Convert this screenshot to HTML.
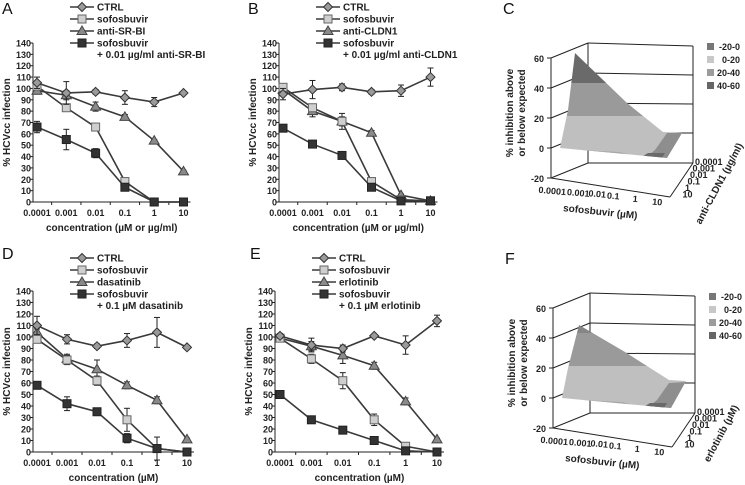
<!DOCTYPE html>
<html><head><meta charset="utf-8"><style>
body{margin:0;background:#fff;}
svg{display:block;font-family:"Liberation Sans",Arial,sans-serif;}
.tk{font-size:9px;font-weight:bold;fill:#222;}
.lg{font-size:10px;font-weight:bold;fill:#222;}
.ttl{font-size:10px;font-weight:bold;fill:#222;}
.let{font-size:16px;fill:#111;}
</style></head><body>
<svg id="fig" width="745" height="485" viewBox="0 0 745 485">
<defs>
<clipPath id="surf-c"><polygon points="560,148 568,110 575,53 627,103 663,132 682,133 667,158 657,157"/></clipPath>
<clipPath id="surf-f"><polygon points="560,148 566,118 577,75 623,102 667,130 684,131 669,158 657,157"/></clipPath>
</defs>
<g id="three-d-c"></g>
<g id="three-d-f" transform="translate(2,250)"></g>
</svg>
<script>
const categories = ["0.0001","0.001","0.01","0.1","1","10"];
const yTicks = [0,10,20,30,40,50,60,70,80,90,100,110,120,130,140];
const seriesNamesA = ["CTRL","sofosbuvir","anti-SR-BI","sofosbuvir"];
const seriesNamesB = ["CTRL","sofosbuvir","anti-CLDN1","sofosbuvir"];
const seriesNamesD = ["CTRL","sofosbuvir","dasatinib","sofosbuvir"];
const seriesNamesE = ["CTRL","sofosbuvir","erlotinib","sofosbuvir"];
const ctrlA=[105,96,97,92,88,96], sofA=[102,83,66,18,0,0], drugA=[98,94,84,75,54,27], comboA=[66,55,43,13,0,0];
const ctrlAErr=[5,10,2,6,4,1], sofAErr=[3,2,2,3,0,0], drugAErr=[3,4,4,2,1,1], comboAErr=[5,9,4,2,0,0];
const ctrlB=[95,99,101,97,98,110], sofB=[101,83,71,18,2,1], drugB=[99,80,71,61,6,1], comboB=[65,51,41,13,1,1];
const ctrlBErr=[5,8,3,2,5,8], sofBErr=[3,3,4,3,0,0], drugBErr=[3,5,7,2,1,0], comboBErr=[3,2,2,2,0,0];
const ctrlD=[110,98,92,97,104,91], sofD=[98,80,62,28,3,0], drugD=[104,81,72,58,45,11], comboD=[58,42,35,12,3,0];
const ctrlDErr=[8,4,2,6,13,1], sofDErr=[3,4,4,10,10,0], drugDErr=[3,4,8,3,3,1], comboDErr=[2,6,2,4,2,0];
const ctrlE=[101,93,90,101,93,114], sofE=[99,81,62,28,5,0], drugE=[99,92,84,75,44,11], comboE=[50,28,19,10,1,0];
const ctrlEErr=[2,6,3,1,8,5], sofEErr=[2,4,7,5,1,0], drugEErr=[2,4,7,3,3,1], comboEErr=[1,1,1,1,0,0];

const NS="http://www.w3.org/2000/svg";
const fig=document.getElementById('fig');
function mk(tag,attrs,parent){const e=document.createElementNS(NS,tag);for(const k in attrs)e.setAttribute(k,attrs[k]);(parent||fig).appendChild(e);return e;}
function txt(s,attrs,parent){const e=mk('text',attrs,parent);e.textContent=s;return e;}

const fills=["#9a9a9a","#cfcfcf","#8a8a8a","#333333"];
function marker(g,kind,x,y){
  let m;
  if(kind===0) m=mk('polygon',{points:`${x},${y-4.5} ${x+4.5},${y} ${x},${y+4.5} ${x-4.5},${y}`,fill:fills[0],stroke:'#333','stroke-width':1},g);
  else if(kind===2) m=mk('polygon',{points:`${x},${y-5} ${x+5},${y+3.5} ${x-5},${y+3.5}`,fill:fills[2],stroke:'#444','stroke-width':1},g);
  else m=mk('rect',{x:x-4,y:y-4,width:8,height:8,fill:fills[kind],stroke:kind===1?'#666':'#222','stroke-width':1},g);
  return m;
}

function linePanel(cfg){
  const g=mk('g',{});
  
  
  const xs=i=>cfg.x0+i*cfg.dx, ys=v=>cfg.y0-v*cfg.ppu;
  const xEnd=cfg.x0+5*cfg.dx+7;
  const l=txt(cfg.letter,{x:cfg.lx,y:cfg.ly,class:'let'},g);
  
  
  const ya=mk('line',{x1:cfg.ax,y1:ys(140),x2:cfg.ax,y2:cfg.y0,stroke:'#222','stroke-width':1},g);
  
  
  const xa=mk('line',{x1:cfg.ax,y1:cfg.y0,x2:xEnd,y2:cfg.y0,stroke:'#222','stroke-width':1},g);
  
  
  yTicks.forEach(t=>{
    mk('line',{x1:cfg.ax-3,y1:ys(t),x2:cfg.ax,y2:ys(t),stroke:'#222'},g);
    const e=txt(String(t),{x:cfg.ax-2,y:ys(t)+3.5,class:'tk','text-anchor':'end'},g);
    
    
  });
  categories.forEach((c,i)=>{
    if(i<5) mk('line',{x1:xs(i)+cfg.dx/2,y1:cfg.y0,x2:xs(i)+cfg.dx/2,y2:cfg.y0+3,stroke:'#222'},g);
    const e=txt(c,{x:xs(i),y:cfg.y0+14,class:'tk','text-anchor':'middle'},g);
    
    
  });
  const yt=txt('% HCVcc infection',{x:0,y:0,class:'ttl','text-anchor':'middle',transform:`translate(${cfg.ax-23},${ys(70)}) rotate(-90)`},g);
  
  
  const xt=txt(cfg.xtitle,{x:(cfg.ax+xEnd)/2,y:cfg.y0+29,class:'ttl','text-anchor':'middle'},g);
  
  
  const order=[2,1,3,0];
  order.forEach(k=>{
    const vals=cfg.series[k], errs=cfg.errs[k];
    const sg=mk('g',{},g);
    
    
    mk('polyline',{points:vals.map((v,i)=>xs(i)+','+ys(v)).join(' '),fill:'none',stroke:'#3a3a3a','stroke-width':1.6},sg);
    vals.forEach((v,i)=>{
      if(errs[i]>0){mk('line',{x1:xs(i),y1:ys(v+errs[i]),x2:xs(i),y2:ys(v-errs[i]),stroke:'#222'},sg);
        mk('line',{x1:xs(i)-3,y1:ys(v+errs[i]),x2:xs(i)+3,y2:ys(v+errs[i]),stroke:'#222'},sg);
        mk('line',{x1:xs(i)-3,y1:ys(v-errs[i]),x2:xs(i)+3,y2:ys(v-errs[i]),stroke:'#222'},sg);}
      const m=marker(sg,k,xs(i),ys(v));
      
      
    });
  });
  const lg=mk('g',{},g);
  
  
  cfg.names.forEach((n,k)=>{
    const y=cfg.legY+k*12;
    const eg=mk('g',{},lg);
    
    
    mk('line',{x1:cfg.ax+37,y1:y,x2:cfg.ax+61,y2:y,stroke:'#3a3a3a','stroke-width':1.6},eg);
    marker(eg,k,cfg.ax+49,y);
    txt(n,{x:cfg.ax+64,y:y+3.5,class:'lg'},eg);
  });
  txt(cfg.comboLabel,{x:cfg.ax+64,y:cfg.legY+36+15,class:'lg'},lg);
}

linePanel({id:'a',letter:'A',lx:2,ly:14,ax:33,x0:37,dx:29.3,y0:202,ppu:159/140,legY:7,names:seriesNamesA,
  series:[ctrlA,sofA,drugA,comboA],errs:[ctrlAErr,sofAErr,drugAErr,comboAErr],xtitle:'concentration (µM or µg/ml)',comboLabel:'+ 0.01 µg/ml anti-SR-BI'});
linePanel({id:'b',letter:'B',lx:248,ly:14,ax:279,x0:283,dx:29.5,y0:202,ppu:159/140,legY:7,names:seriesNamesB,
  series:[ctrlB,sofB,drugB,comboB],errs:[ctrlBErr,sofBErr,drugBErr,comboBErr],xtitle:'concentration (µM or µg/ml)',comboLabel:'+ 0.01 µg/ml anti-CLDN1'});
linePanel({id:'d',letter:'D',lx:2,ly:259,ax:33,x0:37,dx:30,y0:452,ppu:161/140,legY:258,names:seriesNamesD,
  series:[ctrlD,sofD,drugD,comboD],errs:[ctrlDErr,sofDErr,drugDErr,comboDErr],xtitle:'concentration (µM)',comboLabel:'+ 0.1 µM dasatinib'});
linePanel({id:'e',letter:'E',lx:250,ly:259,ax:275,x0:280,dx:31.4,y0:452,ppu:161/140,legY:258,names:seriesNamesE,
  series:[ctrlE,sofE,drugE,comboE],errs:[ctrlEErr,sofEErr,drugEErr,comboEErr],xtitle:'concentration (µM)',comboLabel:'+ 0.1 µM erlotinib'});

// 3D panels (schematic surfaces)
const zTicks=[60,40,20,0,-20];
const legendBands=["-20-0","0-20","20-40","40-60"];
const bandColors=["#777","#c8c8c8","#9c9c9c","#666"];
function threeD(gid,letter,depthTitle,depthLabels,clipId,topColor){
  const g=document.getElementById(gid);
  txt(letter,{x:503,y:14,class:'let'},g);
  const zl=v=>148-(v)*1.5;   // left wall at x=551
  const zb=v=>133-(v)*1.5;   // back wall at x=588
  // grid lines
  zTicks.forEach(t=>{
    mk('line',{x1:551,y1:zl(t),x2:588,y2:zb(t),stroke:'#222'},g);
    mk('line',{x1:588,y1:zb(t),x2:693,y2:zb(t)+(t===-20?0:3*(t/60)),stroke:'#222'},g);
  });
  mk('line',{x1:588,y1:zb(60),x2:588,y2:zb(-20),stroke:'#222'},g);
  mk('line',{x1:693,y1:zb(60)+3,x2:693,y2:zb(-20),stroke:'#222'},g);
  mk('line',{x1:551,y1:zl(60),x2:551,y2:zl(-20),stroke:'#222'},g);
  mk('line',{x1:551,y1:zl(-20),x2:670,y2:197,stroke:'#222'},g);
  mk('line',{x1:670,y1:197,x2:693,y2:zb(-20),stroke:'#222'},g);
  zTicks.forEach(t=>{mk('line',{x1:547,y1:zl(t),x2:551,y2:zl(t),stroke:'#222'},g);
    txt(String(t),{x:544,y:zl(t)+4,class:'tk','text-anchor':'end'},g);});
  // surface bands clipped
  const sg=mk('g',{'clip-path':`url(#${clipId})`},g);
  
  
  mk('rect',{x:545,y:40,width:150,height:43,fill:topColor},sg);
  mk('rect',{x:545,y:83,width:150,height:33,fill:'#9a9a9a'},sg);
  mk('rect',{x:545,y:116,width:150,height:50,fill:'#bfbfbf'},sg);
  mk('polygon',{points:'560,149 620,152 640,158 560,158',fill:'#a8a8a8'},sg);
  mk('polygon',{points:'645,158 655,150 667,133 684,132 669,158',fill:'#8e8e8e'},sg);
  mk('polygon',{points:'640,158 648,153 665,153 662,158',fill:'#6a6a6a'},sg);
  // labels
  const yl=txt('% inhibition above',{x:0,y:0,class:'ttl','text-anchor':'middle',transform:'translate(513,113) rotate(-90)'},g);
  
  
  txt('or below expected',{x:0,y:0,class:'ttl','text-anchor':'middle',transform:'translate(525,113) rotate(-90)'},g);
  const xl=['0.0001','0.001','0.01','0.1','1','10'], xp=[552,578,597,613,635,657], yp=[194,196,197,199,202,205];
  xl.forEach((s,i)=>txt(s,{x:xp[i],y:yp[i],class:'tk','text-anchor':'middle',transform:`rotate(5 ${xp[i]} ${yp[i]})`},g));
  const st=txt('sofosbuvir (µM)',{x:600,y:215,class:'ttl','text-anchor':'middle',transform:'rotate(6 600 215)'},g);
  
  
  depthLabels.forEach((s,i)=>txt(s,{x:695-i*2.5,y:165+i*6.5,class:'tk'},g));
  const dt=txt(depthTitle,{x:0,y:0,class:'ttl','text-anchor':'middle',transform:'translate(722,185) rotate(-62)'},g);
  
  
  legendBands.forEach((b,i)=>{
    const eg=mk('g',{},g);
    
    
    mk('rect',{x:707,y:43+i*13,width:7,height:7,fill:bandColors[i]},eg);
    txt(b,{x:740,y:50+i*13,class:'tk','text-anchor':'end'},eg);
  });
}
threeD('three-d-c','C','anti-CLDN1 (µg/ml)',['0.0001','0.001','0.01','0.1','1','10'],'surf-c','#6a6a6a');
threeD('three-d-f','F','erlotinib (µM)',['0.0001','0.001','0.01','0.1','1','10'],'surf-f','#858585');
</script>
</body></html>
